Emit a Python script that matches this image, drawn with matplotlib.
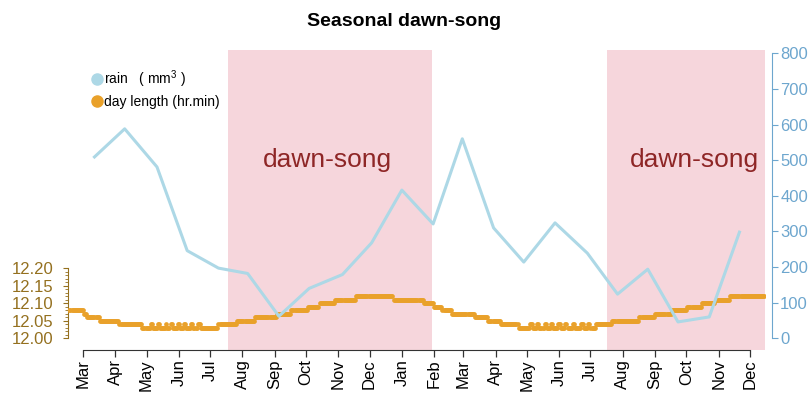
import numpy as np
import pandas as pd
import matplotlib
matplotlib.use("Agg")
import matplotlib.pyplot as plt
import matplotlib.dates as mdates
from matplotlib.lines import Line2D
from matplotlib.ticker import FixedLocator, FormatStrFormatter

plt.rcParams['font.family'] = ['Liberation Sans', 'DejaVu Sans']
plt.rcParams['mathtext.fontset'] = 'custom'
plt.rcParams['mathtext.rm'] = 'Liberation Sans'
plt.rcParams['mathtext.it'] = 'Liberation Sans'

# ---- data -------------------------------------------------------------
start = pd.Timestamp('2013-03-01')

# monthly rainfall (mm), sample day counted from 1 March 2013
rain_day = [11, 40, 71, 100, 130, 158, 188, 217, 249, 277, 306, 336,
            364, 394, 423, 453, 484, 513, 542, 571, 601, 630]
rain_mm = [509, 588, 481, 246, 197, 182, 62, 140, 179, 268, 416, 321,
           560, 310, 214, 324, 239, 124, 194, 46, 60, 298]

# daily day length (hr.min) as runs of equal value: level, number of days
dl_first_day = -13
dl_level = [12.08, 12.07, 12.06, 12.05, 12.04, 12.03,
            12.04, 12.03, 12.04, 12.03, 12.04, 12.03, 12.04, 12.03,
            12.04, 12.03, 12.04, 12.03, 12.04, 12.03, 12.04, 12.03,
            12.03, 12.04, 12.05, 12.06, 12.07, 12.08, 12.09, 12.10,
            12.11, 12.12, 12.11, 12.10, 12.09, 12.08, 12.07, 12.06,
            12.05, 12.04, 12.03,
            12.04, 12.03, 12.04, 12.03, 12.04, 12.03, 12.04, 12.03,
            12.04, 12.03, 12.04, 12.03, 12.04, 12.03, 12.04, 12.03,
            12.04, 12.03,
            12.04, 12.05, 12.06, 12.07, 12.08, 12.09, 12.10, 12.11, 12.12]
dl_days = [14, 3, 12, 19, 22, 8,
           2, 5, 2, 6, 1, 3, 2, 5,
           2, 4, 2, 5, 2, 4, 3, 9,
           8, 18, 17, 21, 14, 16, 11, 15,
           20, 36, 29, 10, 8, 9, 22, 13,
           12, 17, 11,
           3, 4, 2, 5, 2, 4, 2, 5,
           3, 4, 2, 5, 2, 6, 3, 4,
           2, 5,
           16, 26, 15, 16, 15, 14, 13, 14, 34]

# dawn-song periods (start, end) as days from 1 March 2013
song_start = [139, 503]
song_end = [335, 656]
song_label = 'dawn-song'

month_ticks = pd.date_range('2013-03-01', '2014-12-01', freq='MS')

# ---- derived series ----------------------------------------------------
def day(d):
    return start + pd.Timedelta(days=d)

rain_dates = [day(d) for d in rain_day]
dl_values = np.repeat(dl_level, dl_days)
dl_dates = [day(dl_first_day + i) for i in range(len(dl_values))]

# ---- colours -----------------------------------------------------------
pink = '#F6D6DC'
rain_col = '#ADD8E6'
day_col = '#E9A12A'
left_col = '#94701F'
right_col = '#6DA6CE'
song_col = '#8E2626'

# ---- figure ------------------------------------------------------------
W, H = 808, 395
fig = plt.figure(figsize=(W / 100, H / 100), dpi=100)
L, R, T, B = 68.2, 764.9, 41.9, 349.7
ax = fig.add_axes([L / W, 1 - B / H, (R - L) / W, (B - T) / H])
ax2 = ax.twinx()

ax.set_xlim(day(-14.2), day(654.4))
ax.set_ylim(11.9664, 12.8497)
ax2.set_ylim(-32, 832)

# shaded dawn-song periods and their labels
for s, e in zip(song_start, song_end):
    ax.axvspan(day(s), day(e), ymin=0, ymax=(809 + 32) / 864,
               color=pink, lw=0, zorder=0)
ax2.text(day(234.6), 500, song_label, color=song_col,
         fontsize=19, ha='center', va='center')
ax2.text(day(586.8), 500, song_label, color=song_col,
         fontsize=19, ha='center', va='center')

# day length: one dot per day
ax.plot(dl_dates, dl_values, 'o', color=day_col, ms=3.4, mew=0, zorder=3)

# rainfall
ax2.plot(rain_dates, rain_mm, color=rain_col, lw=2.2, zorder=4)

# ---- axes styling ------------------------------------------------------
for a in (ax, ax2):
    a.spines['top'].set_visible(False)
ax.spines['right'].set_visible(False)
ax2.spines['left'].set_visible(False)
ax2.spines['bottom'].set_visible(False)

# left axis: day length
ax.spines['left'].set_bounds(12.0, 12.2)
ax.spines['left'].set_color(left_col)
ax.yaxis.set_major_locator(FixedLocator(np.arange(12.0, 12.2001, 0.05)))
ax.yaxis.set_minor_locator(FixedLocator(np.arange(12.0, 12.2001, 0.01)))
ax.yaxis.set_major_formatter(FormatStrFormatter('%.2f'))
ax.tick_params(axis='y', which='major', colors=left_col, labelsize=12,
               length=3.6, width=0.8, pad=7)
ax.tick_params(axis='y', which='minor', colors=left_col, length=1.9, width=0.6)

# right axis: rain
ax2.spines['right'].set_position(('outward', 5))
ax2.spines['right'].set_bounds(0, 800)
ax2.spines['right'].set_color(right_col)
ax2.set_yticks(np.arange(0, 801, 100))
ax2.tick_params(axis='y', colors=right_col, labelsize=12, length=4,
                width=0.8, pad=2)

# bottom axis: months
ax.spines['bottom'].set_bounds(mdates.date2num(month_ticks[0]),
                               mdates.date2num(month_ticks[-1]))
ax.spines['bottom'].set_color('#333333')
ax.set_xticks(month_ticks)
ax.xaxis.set_major_formatter(mdates.DateFormatter('%b'))
ax.tick_params(axis='x', labelsize=12, length=5, width=0.9, pad=2,
               labelrotation=90, colors='#333333', labelcolor='black')

# legend
handles = [Line2D([], [], ls='none', marker='o', ms=8, color=rain_col),
           Line2D([], [], ls='none', marker='o', ms=8, color=day_col)]
labels = ['rain   ( mm$^3$ )', 'day length (hr.min)']
fig.legend(handles, labels, loc='upper left', bbox_to_anchor=(84 / W, 1 - 63 / H),
           frameon=False, fontsize=10, handletextpad=0.05, labelspacing=0.35,
           handlelength=1.0, borderaxespad=0)

fig.text(404 / W, 1 - 21 / H, 'Seasonal dawn-song', ha='center', va='center',
         fontsize=14, fontweight='bold')

fig.savefig('out.png', dpi=100)
